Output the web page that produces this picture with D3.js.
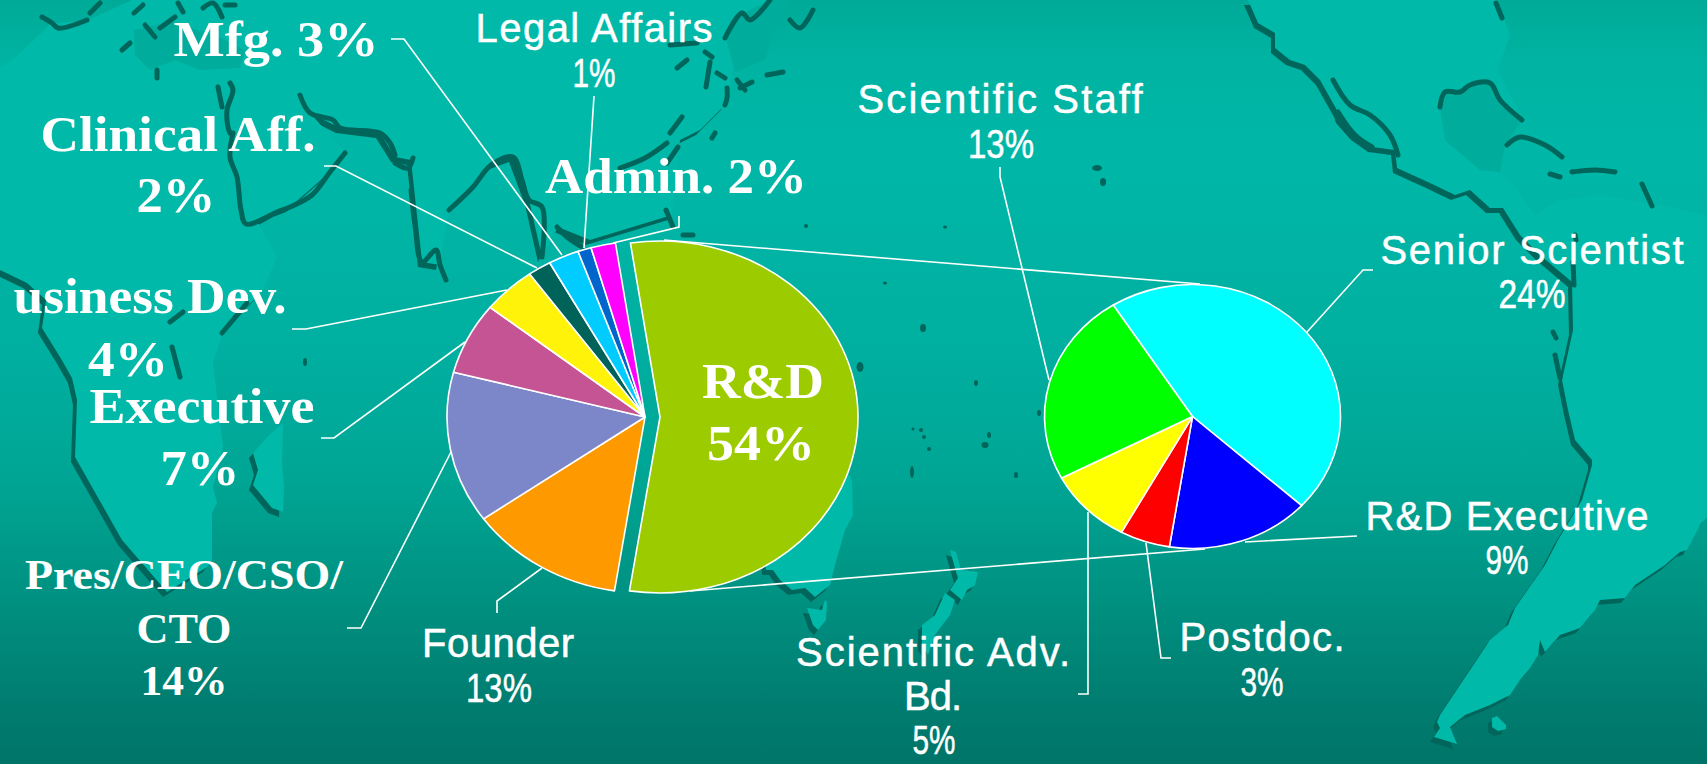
<!DOCTYPE html>
<html>
<head>
<meta charset="utf-8">
<script src="https://cdn.jsdelivr.net/npm/d3@7"></script>
<style>
html, body { margin: 0; padding: 0; background: #00a594; overflow: hidden; }
svg { display: block; }
</style>
</head>
<body>
<svg id="chart" width="1707" height="764"></svg>
<script>
// pie data
var mainNames = ["R&D", "Founder", "Pres/CEO/CSO/CTO", "Executive", "Business Dev.", "Clinical Aff.", "Mfg.", "Legal Affairs", "Admin."];
var mainValues = [54.8, 12.7, 13.9, 6.6, 4.4, 1.9, 2.5, 1.1, 2.0];
var mainColors = ["#9ccc00", "#ff9900", "#7c87ca", "#c45494", "#fff30a", "#00635a", "#00ccff", "#0066cc", "#ff00ff"];

var subNames = ["Senior Scientist", "R&D Executive", "Postdoc.", "Scientific Adv. Bd.", "Scientific Staff"];
var subValues = [25.1, 8.6, 3.0, 5.1, 13.0];
var subColors = ["#00ffff", "#0000ff", "#ff0000", "#ffff00", "#00ff00"];

// label lines: text, centre x, baseline y, drawn width, font size
var serifLabels = [
    ["Mfg. 3%", 276, 56, 205, 50],
    ["Clinical Aff.", 178, 151, 275, 50],
    ["2%", 176, 212, 79, 50],
    ["Admin. 2%", 676, 193, 262, 50],
    ["usiness Dev.", 150, 313, 273, 50],
    ["4%", 128, 376, 80, 50],
    ["Executive", 202, 423, 225, 50],
    ["7%", 200, 485, 79, 50],
    ["Pres/CEO/CSO/", 184, 589, 318, 43],
    ["CTO", 184, 643, 95, 43],
    ["14%", 184, 695, 87, 43],
    ["R&D", 763, 398, 122, 50],
    ["54%", 761, 460, 108, 50]
];
var sansLabels = [
    ["Legal Affairs", 594, 42, 237, 40],
    ["1%", 594, 87, 43, 40],
    ["Scientific Staff", 1000, 113, 285, 40],
    ["13%", 1001, 158, 66, 40],
    ["Senior Scientist", 1532, 264, 303, 40],
    ["24%", 1532, 308, 67, 40],
    ["R&D Executive", 1507, 530, 283, 40],
    ["9%", 1507, 574, 43, 40],
    ["Postdoc.", 1262, 651, 165, 40],
    ["3%", 1262, 696, 43, 40],
    ["Founder", 498, 657, 152, 40],
    ["13%", 499, 702, 66, 40],
    ["Scientific Adv.", 933, 666, 274, 40],
    ["Bd.", 933, 710, 58, 40],
    ["5%", 934, 754, 43, 40]
];

// leader lines
var leaders = [
    [[679, 216], [679, 227], [613, 243]],
    [[594, 96], [584, 248]],
    [[391, 39], [404, 39], [562, 255]],
    [[324, 166], [336, 166], [537, 268]],
    [[292, 329], [306, 329], [507, 290]],
    [[321, 438], [334, 438], [465, 342]],
    [[347, 628], [361, 628], [451, 452]],
    [[497, 613], [497, 601], [542, 568]],
    [[1000, 167], [1000, 177], [1049, 380]],
    [[1373, 270], [1363, 270], [1307, 332]],
    [[1357, 536], [1245, 542]],
    [[1171, 658], [1161, 658], [1146, 543]],
    [[1078, 694], [1088, 694], [1088, 512]]
];
var connectors = [
    [[664, 240], [1200, 284]],
    [[690, 591], [1205, 549]]
];

// background map, hand traced
var landShapes = [
    // africa, arabia and asia
    [[0, 68], [18, 55], [42, 32], [50, 24], [88, 20], [132, 0], [780, 0], [735, 60], [725, 105], [700, 130], [680, 140], [672, 215], [590, 240], [558, 227], [542, 257], [529, 200], [513, 157], [491, 165], [449, 210], [440, 265], [422, 262], [411, 160], [395, 157], [380, 133], [340, 128], [310, 113], [346, 153], [330, 172], [290, 207], [277, 212], [250, 227], [243, 218], [232, 160], [226, 130], [240, 190], [277, 257], [263, 290], [223, 333], [213, 363], [223, 447], [213, 487], [217, 503], [212, 513], [212, 560], [207, 567], [167, 592], [122, 540], [75, 457], [77, 400], [72, 378], [60, 357], [42, 328], [46, 300], [27, 283], [0, 270]],
    // madagascar
    [[253, 453], [267, 437], [283, 423], [282, 463], [284, 487], [283, 512], [272, 508], [253, 485], [258, 470]],
    // the americas
    [[1248, 0], [1258, 23], [1275, 33], [1275, 48], [1290, 60], [1305, 65], [1320, 80], [1338, 112], [1340, 118], [1355, 135], [1372, 147], [1395, 150], [1397, 168], [1430, 183], [1455, 195], [1470, 190], [1490, 208], [1503, 208], [1520, 235], [1540, 255], [1572, 282], [1573, 330], [1562, 380], [1568, 410], [1575, 440], [1592, 460], [1592, 465], [1582, 500], [1558, 540], [1545, 565], [1515, 608], [1508, 625], [1490, 640], [1440, 715], [1437, 722], [1440, 728], [1434, 737], [1457, 744], [1450, 727], [1465, 715], [1490, 705], [1500, 700], [1510, 695], [1520, 680], [1530, 668], [1538, 655], [1540, 640], [1545, 652], [1560, 635], [1580, 628], [1595, 610], [1600, 600], [1625, 598], [1635, 585], [1665, 565], [1680, 552], [1687, 550], [1700, 525], [1707, 517], [1707, 215], [1660, 205], [1600, 195], [1560, 200], [1535, 215], [1510, 180], [1495, 170], [1505, 145], [1522, 118], [1498, 70], [1510, 35], [1497, 0]],
    // falklands
    [[1492, 718], [1497, 716], [1506, 725], [1506, 729], [1498, 731], [1492, 727]],
    // australia
    [[766, 570], [773, 570], [780, 580], [792, 590], [805, 588], [815, 597], [830, 585], [835, 565], [845, 530], [853, 515], [852, 480], [846, 470], [760, 470]],
    // tasmania
    [[807, 608], [822, 610], [825, 600], [827, 602], [826, 620], [818, 630], [813, 625]],
    // new zealand
    [[950, 550], [956, 552], [961, 570], [978, 572], [975, 585], [967, 590], [962, 600], [950, 590], [958, 578]],
    [[945, 593], [955, 600], [950, 615], [935, 635], [928, 655], [922, 645], [922, 625], [935, 615]]
];

// inland seas, a little darker than the land
var seaShapes = [
    [[134, 30], [170, 22], [215, 35], [245, 50], [240, 68], [200, 70], [175, 60], [150, 70], [135, 55]],
    [[725, 35], [742, 14], [770, 0], [790, 0], [775, 30], [765, 60], [735, 72]],
    [[1440, 107], [1445, 92], [1460, 92], [1470, 85], [1490, 83], [1500, 100], [1522, 120], [1505, 145], [1500, 172], [1480, 170], [1445, 140]]
];

var coastLines = [
    [[42, 17], [52, 23], [58, 28], [87, 20]],
    [[90, 13], [100, 3]],
    [[134, 13], [143, 5]],
    [[178, 3], [183, 12]],
    [[145, 25], [155, 37]],
    [[160, 28], [175, 17]],
    [[122, 50], [130, 43]],
    [[157, 70], [157, 78]],
    [[203, 8], [213, 3], [222, 17]],
    [[225, 5], [235, 5]],
    [[218, 87], [222, 107]],
    [[230, 83], [233, 90], [227, 110], [228, 127], [230, 133]],
    [[233, 133], [230, 157], [237, 177], [241, 210], [246, 224], [277, 212], [290, 207], [312, 195], [330, 172], [345, 153]],
    [[300, 95], [310, 113], [333, 120], [340, 128], [380, 133], [390, 143], [395, 155]],
    [[395, 163], [408, 168], [413, 158]],
    [[411, 190], [415, 225], [422, 262], [436, 250], [440, 265], [446, 280]],
    [[449, 210], [473, 187], [491, 165], [513, 157], [522, 180], [529, 200], [542, 207], [542, 257]],
    [[557, 227], [567, 237], [582, 247]],
    [[620, 168], [645, 158], [667, 143]],
    [[667, 163], [678, 147]],
    [[670, 133], [682, 117]],
    [[677, 68], [687, 60]],
    [[670, 45], [697, 43]],
    [[705, 52], [712, 57]],
    [[710, 62], [706, 87]],
    [[717, 73], [725, 78]],
    [[727, 88], [727, 98], [725, 105]],
    [[737, 80], [745, 90]],
    [[740, 88], [752, 82]],
    [[767, 75], [783, 72]],
    [[725, 38], [742, 13], [750, 20], [770, 0]],
    [[790, 20], [800, 28], [813, 10]],
    [[666, 210], [673, 227]],
    [[683, 235], [693, 235]],
    [[712, 138], [715, 133]],
    [[170, 322], [183, 312]],
    [[172, 347], [180, 377]],
    [[222, 333], [247, 303]],
    // north america
    [[1333, 80], [1350, 105], [1370, 115], [1390, 135], [1398, 155]],
    [[1338, 112], [1355, 135], [1372, 147]],
    [[1440, 107], [1445, 92], [1460, 92], [1470, 85], [1490, 83], [1500, 100], [1522, 120]],
    [[1507, 145], [1520, 137], [1545, 145], [1562, 157]],
    [[1572, 172], [1595, 170], [1615, 172]],
    [[1550, 174], [1560, 177]],
    [[1642, 184], [1652, 206]],
    [[1496, 3], [1502, 18]],
    [[1575, 235], [1576, 240]],
    [[1573, 262], [1574, 285]],
    [[1553, 332], [1556, 338]],
    [[1555, 355], [1560, 378]]
];
var islands = [[885, 283, 2, 1.5], [923, 328, 3, 4], [860, 367, 3.5, 5], [976, 383, 2, 3], [913, 429, 1.5, 1.5], [921, 430, 2, 2], [924, 437, 2, 2], [929, 449, 2, 2], [985, 445, 3.5, 3], [989, 435, 2, 3], [1039, 413, 2, 3], [1016, 475, 2, 3], [912, 472, 2, 6], [945, 227, 2, 1.5], [1097, 168, 5, 3], [1103, 182, 3, 4], [806, 226, 2, 2], [305, 362, 2, 4]];

var svg = d3.select("#chart");
var width = 1707, height = 764;
var shadowColor = "#00655a";
var landColor = "#00b9a9";

var defs = svg.append("defs");
var grad = defs.append("linearGradient").attr("id", "sea").attr("x1", 0).attr("y1", 0).attr("x2", 0).attr("y2", 1);
[[0, "#00aa98"], [0.08, "#00b3a2"], [0.2, "#00b7a7"], [0.46, "#00afa0"], [0.63, "#00a594"], [0.79, "#009080"], [0.92, "#007d70"], [1, "#007468"]].forEach(function(s){
    grad.append("stop").attr("offset", s[0]).attr("stop-color", s[1]);
});

svg.append("rect").attr("width", width).attr("height", height).attr("fill", "url(#sea)");

var polyLine = d3.line();
var map = svg.append("g");

// shadow first, land on top of it, nudged down and left
map.selectAll("path.shadow").data(landShapes).enter().append("path")
    .attr("class", "shadow")
    .attr("d", function(d){return polyLine(d) + "Z"})
    .attr("transform", "translate(-4,5)")
    .attr("fill", shadowColor);
map.selectAll("path.land").data(landShapes).enter().append("path")
    .attr("class", "land")
    .attr("d", function(d){return polyLine(d) + "Z"})
    .attr("fill", landColor);
map.selectAll("path.seas").data(seaShapes).enter().append("path")
    .attr("class", "seas")
    .attr("d", function(d){return polyLine(d) + "Z"})
    .attr("fill", "#00ad9c");
map.selectAll("path.coast").data(coastLines).enter().append("path")
    .attr("class", "coast")
    .attr("d", d3.line().curve(d3.curveCatmullRom))
    .attr("fill", "none")
    .attr("stroke", shadowColor)
    .attr("stroke-width", 5)
    .attr("stroke-linecap", "round");
map.selectAll("ellipse").data(islands).enter().append("ellipse")
    .attr("cx", function(d){return d[0]})
    .attr("cy", function(d){return d[1]})
    .attr("rx", function(d){return d[2]})
    .attr("ry", function(d){return d[3]})
    .attr("fill", shadowColor);

// draw one elliptical pie: the arcs are circles squashed by the group transform
var drawPie = function(values, colors, cx, cy, rx, ry, firstDeg, pullOut){
    var startAngle = firstDeg * Math.PI / 180;
    var pie = d3.pie().sort(null).startAngle(startAngle).endAngle(startAngle + 2 * Math.PI);
    var arc = d3.arc().innerRadius(0).outerRadius(100);
    var group = svg.append("g");
    group.selectAll("path").data(pie(values)).enter().append("path")
        .attr("d", arc)
        .attr("transform", function(d, i){
            var dx = i == pullOut ? 15 : 0;
            return "translate(" + (cx + dx) + "," + cy + ") scale(" + rx / 100 + "," + ry / 100 + ")";
        })
        .attr("fill", function(d, i){return colors[i]})
        .attr("stroke", "white")
        .attr("stroke-width", 1.6)
        .attr("stroke-linejoin", "round")
        .attr("vector-effect", "non-scaling-stroke");
};

var straight = d3.line();
svg.append("g").selectAll("path").data(connectors).enter().append("path")
    .attr("d", straight)
    .attr("fill", "none")
    .attr("stroke", "white")
    .attr("stroke-width", 1.6);

drawPie(mainValues, mainColors, 645, 417, 198, 176, -8.6, 0);
drawPie(subValues, subColors, 1192.5, 416.5, 148, 132, -32.4, -1);

svg.append("g").selectAll("path").data(leaders).enter().append("path")
    .attr("d", straight)
    .attr("fill", "none")
    .attr("stroke", "white")
    .attr("stroke-width", 1.6);

// fit every line to the width it has in the picture
var drawLabels = function(rows, family, weight, squeezeWords, outline){
    svg.append("g").selectAll("text").data(rows).enter().append("text")
        .attr("x", function(d){return d[1]})
        .attr("y", function(d){return d[2]})
        .attr("text-anchor", "middle")
        .attr("textLength", function(d){return d[3]})
        .attr("lengthAdjust", function(d){
            return squeezeWords || d[0].indexOf("%") >= 0 ? "spacingAndGlyphs" : "spacing";
        })
        .attr("font-family", family)
        .attr("font-weight", weight)
        .attr("font-size", function(d){return d[4]})
        .attr("fill", "white")
        .attr("stroke", outline ? "white" : "none")
        .attr("stroke-width", outline)
        .text(function(d){return d[0]});
};
drawLabels(serifLabels, "'Liberation Serif', serif", "bold", true, 0);
drawLabels(sansLabels, "'Liberation Sans', sans-serif", "normal", false, 0.5);
</script>
</body>
</html>
